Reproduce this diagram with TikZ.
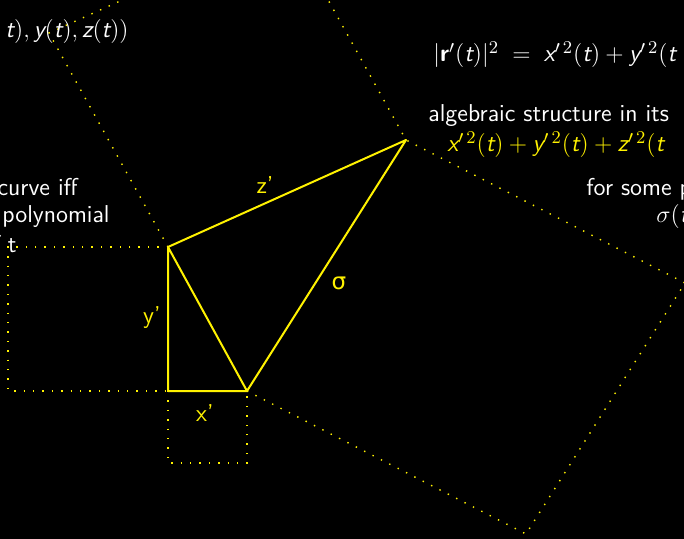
\documentclass[tikz,border=0pt]{standalone}
\usepackage{amsmath}
\usepackage{fontspec}
\newfontfamily\gk{DejaVu Sans}
\newcommand\mi[1]{\textsf{\itshape #1}}
\newcommand\mb[1]{\textsf{\bfseries #1}}
\begin{document}
\begin{tikzpicture}[x=0.5pt,y=-0.5pt,
  side/.style={yellow, line width=1pt, line join=round},
  aux/.style={yellow, line width=0.7pt, dash pattern=on 0.7pt off 4pt},
  txt/.style={white, inner sep=0pt, font=\fontsize{12.2}{14}\selectfont\sffamily},
  ytxt/.style={txt, yellow},
  lab/.style={yellow, inner sep=0pt, font=\fontsize{12.2}{14}\selectfont\sffamily}]
\fill[black] (0,0) rectangle (684,539);
\clip (0,0) rectangle (684,539);
% triangle vertices
\coordinate (A) at (168,247);
\coordinate (B) at (168,391);
\coordinate (C) at (247,391);
\coordinate (D) at (406,140);
% square corners
\coordinate (Ya) at (8,247);
\coordinate (Yb) at (8,391);
\coordinate (Xb) at (168,463);
\coordinate (Xc) at (247,463);
\coordinate (Za) at (49,33);
\coordinate (Zd) at (287,-74);
\coordinate (Sc) at (526,534);
\coordinate (Sd) at (685,283);
% dotted squares
\draw[aux] (A) -- (Ya) -- (Yb) -- (B);
\draw[aux] (B) -- (Xb) -- (Xc) -- (C);
\draw[aux] (A) -- (Za) -- (Zd) -- (D);
\draw[aux] (C) -- (Sc) -- (Sd) -- (D);
% solid triangles
\draw[side] (A) -- (B) -- (C) -- cycle;
\draw[side] (A) -- (D) -- (C);
% labels
\node[lab] (ly) at (152,318) {y’};
\node[lab] (lx) at (205,413) {x’};
\node[lab] (lz) at (265,185) {z’};
\node[lab] (ls) at (339,283) {{\gk\fontsize{11.5}{14}\selectfont σ}};
% texts
\node[txt, anchor=base east] (t1) at (129,38) {$\mi{t}), \mi{y}(\mi{t}), \mi{z}(\mi{t}))$};
\node[txt, anchor=base west] (t2) at (433,62) {$|\mb{r}'(\mi{t})|^2 \;=\; \mi{x}'^{\,2}(\mi{t}) + \mi{y}'^{\,2}(\mi{t}$};
\node[txt, anchor=base west] (t3) at (428,122) {algebraic structure in its};
\node[ytxt, anchor=base west] (t4) at (447,152) {$\mi{x}'^{\,2}(\mi{t}) + \mi{y}'^{\,2}(\mi{t}) + \mi{z}'^{\,2}(\mi{t}$};
\node[txt, anchor=base west] (t5) at (586,196) {for some p};
\node[txt, anchor=base west] (t6) at (656,223) {$\sigma(\mi{t}$};
\node[txt, anchor=base east] (t7) at (78,196) {curve iff};
\node[txt, anchor=base east] (t8) at (110,223) {polynomial};
\node[txt, anchor=base east] (t9) at (17,253) {of t};
\end{tikzpicture}
\end{document}
